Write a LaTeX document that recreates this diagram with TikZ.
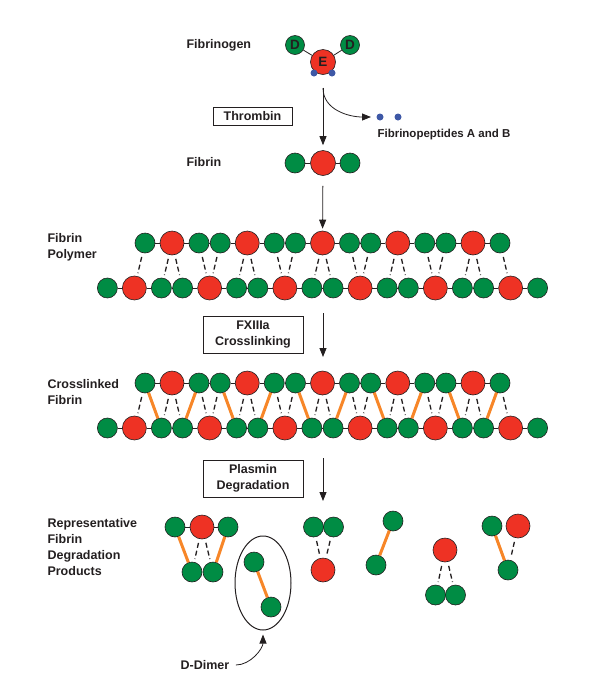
\documentclass[tikz,border=0pt]{standalone}
\usepackage{fontspec}
\setmainfont{Liberation Sans}
\usetikzlibrary{positioning, arrows.meta, shapes.geometric}
\definecolor{fibGreen}{RGB}{0, 140, 68}
\definecolor{fibRed}{RGB}{238, 50, 36}
\definecolor{xlinkOrange}{RGB}{247, 134, 40}
\definecolor{peptideBlue}{RGB}{62, 88, 166}
\definecolor{inkGray}{RGB}{35, 31, 32}

\begin{document}
\begin{tikzpicture}[
    x=1pt, y=-1pt,
    every node/.style={font=\bfseries\fontsize{12.5}{16}\selectfont, text=inkGray},
    dom/.style={circle, draw=inkGray, line width=0.6pt, inner sep=0pt},
    ddom/.style={dom, fill=fibGreen, minimum size=20pt},
    edom/.style={dom, fill=fibRed, minimum size=24pt},
    pep/.style={circle, fill=peptideBlue, inner sep=0pt, minimum size=7pt},
    link/.style={draw=inkGray, line width=0.8pt},
    weak/.style={draw=inkGray, line width=1.3pt, dash pattern=on 5pt off 3pt, shorten <=4pt, shorten >=3pt},
    xlink/.style={draw=xlinkOrange, line width=3pt},
    enzyme/.style={rectangle, draw=inkGray, line width=1pt, align=center, inner sep=2pt},
    stage/.style={anchor=west, align=left},
    arrow/.style={-{Triangle[length=9pt, width=7pt]}, line width=0.8pt, draw=inkGray}
]
\useasboundingbox (0,0) rectangle (590,681);

% --- Fibrinogen ------------------------------------------------------------
\node[stage] (fgnlbl) at (183,45) {Fibrinogen};
\node[edom, minimum size=25pt, font=\bfseries\fontsize{13.5}{16}\selectfont] (fgE) at (323,62) {E};
\node[ddom, minimum size=19pt, font=\bfseries\fontsize{13.5}{16}\selectfont] (fgDl) at (295,45) {D};
\node[ddom, minimum size=19pt, font=\bfseries\fontsize{13.5}{16}\selectfont] (fgDr) at (350,45) {D};
\draw[link] (fgDl) -- (fgE) -- (fgDr);
\node[pep] (fgpa) at (314,73) {};
\node[pep] (fgpb) at (332,73) {};

% --- Thrombin cleavage -------------------------------------------------------
\node[enzyme, minimum width=79pt, minimum height=18pt] (thrombin) at (252.5,116) {Thrombin};
\coordinate (split) at (323,88);
\node[pep] (fpa) at (380,117) {};
\node[pep] (fpb) at (398,117) {};
\node[anchor=north west, font=\bfseries\fontsize{11.5}{14}\selectfont] (fplbl) at (374,126) {Fibrinopeptides A and B};
\draw[arrow] (split) to[out=-90, in=180] ([xshift=-9pt]fpa.center);

% --- Fibrin monomer ----------------------------------------------------------
\node[stage] (fnlbl) at (183,162) {Fibrin};
\node[edom, minimum size=25pt] (fr) at (323,163) {};
\node[ddom] (fgl) at (295,163) {};
\node[ddom] (fgr) at (350,163) {};
\draw[link] (fgl) -- (fr) -- (fgr);
\draw[arrow, shorten >=5pt] (split) -- (fr);

% --- Polymer (p) and crosslinked (c) double strands --------------------------
\foreach \row/\ty/\by in {p/243/288, c/383/428} {
    \foreach \i in {1,...,5} {
        \pgfmathsetmacro\cx{322.5+75.25*(\i-3)}
        \node[ddom] (\row-t\i-l) at (\cx-27,\ty) {};
        \node[edom] (\row-t\i-e) at (\cx,\ty) {};
        \node[ddom] (\row-t\i-r) at (\cx+27,\ty) {};
        \draw[link] (\row-t\i-l) -- (\row-t\i-e) -- (\row-t\i-r);
    }
    \foreach \i in {1,...,6} {
        \pgfmathsetmacro\cx{322.5+75.25*(\i-3.5)}
        \node[ddom] (\row-b\i-l) at (\cx-27,\by) {};
        \node[edom] (\row-b\i-e) at (\cx,\by) {};
        \node[ddom] (\row-b\i-r) at (\cx+27,\by) {};
        \draw[link] (\row-b\i-l) -- (\row-b\i-e) -- (\row-b\i-r);
    }
    \foreach \i in {1,...,5} {
        \pgfmathtruncatemacro\j{\i+1}
        \draw[link] (\row-b\i-r) -- (\row-b\j-l);
        \ifnum\i<5 \draw[link] (\row-t\i-r) -- (\row-t\j-l); \fi
        % E-D contacts between the strands
        \draw[weak] (\row-t\i-e) -- (\row-b\i-r);
        \draw[weak] (\row-t\i-e) -- (\row-b\j-l);
        \draw[weak] (\row-t\i-l) -- (\row-b\i-e);
        \draw[weak] (\row-t\i-r) -- (\row-b\j-e);
    }
}
\node[stage] (polylbl) at (44,247) {Fibrin\\Polymer};
\draw[arrow, shorten <=10pt, shorten >=2pt] (fr) -- (p-t3-e);

% --- FXIIIa crosslinking ----------------------------------------------------
\node[enzyme, minimum width=100pt, minimum height=37pt] (fxiii) at (253,334.5) {FXIIIa\\Crosslinking};
\coordinate (fxtop) at (323,313);
\coordinate (fxbot) at (323,357);
\draw[arrow] (fxtop) -- (fxbot);

\node[stage] (xlinklbl) at (44,392) {Crosslinked\\Fibrin};
\foreach \i in {1,...,5} {
    \pgfmathtruncatemacro\j{\i+1}
    \draw[xlink] (c-t\i-l) -- (c-b\i-r);
    \draw[xlink] (c-t\i-r) -- (c-b\j-l);
}

% --- Plasmin degradation ----------------------------------------------------
\node[enzyme, minimum width=100pt, minimum height=37pt] (plasmin) at (253,478.5) {Plasmin\\Degradation};
\coordinate (pltop) at (323,458);
\coordinate (plbot) at (323,501);
\draw[arrow] (pltop) -- (plbot);

\node[stage] (fdplbl) at (44,547) {Representative\\Fibrin\\Degradation\\Products};

% fragment 1
\node[ddom] (f1a) at (175,527) {};
\node[edom] (f1e) at (202,527) {};
\node[ddom] (f1b) at (228,527) {};
\node[ddom] (f1c) at (192,572) {};
\node[ddom] (f1d) at (213,572) {};
\draw[link] (f1a) -- (f1e) -- (f1b);
\draw[xlink] (f1a) -- (f1c);
\draw[xlink] (f1b) -- (f1d);
\draw[weak] (f1e) -- (f1c);
\draw[weak] (f1e) -- (f1d);

% fragment 2: D-dimer
\node[ddom] (f2a) at (254,562) {};
\node[ddom] (f2b) at (271,607) {};
\draw[xlink] (f2a) -- (f2b);
\node[ellipse, draw=inkGray, line width=1pt, minimum width=56pt, minimum height=94pt] (ddimer) at (263,583) {};
\node (ddlbl) at (205,665) {D-Dimer};
\draw[arrow, shorten <=3pt, shorten >=4pt] (ddlbl.east) to[out=0, in=-90] (ddimer.south);

% fragment 3
\node[ddom] (f3a) at (313.5,527) {};
\node[ddom] (f3b) at (333.5,527) {};
\node[edom] (f3e) at (323,570) {};
\draw[weak] (f3a) -- (f3e);
\draw[weak] (f3b) -- (f3e);

% fragment 4
\node[ddom] (f4a) at (393,521) {};
\node[ddom] (f4b) at (376,565) {};
\draw[xlink] (f4a) -- (f4b);

% fragment 5
\node[edom] (f5e) at (445,550) {};
\node[ddom] (f5a) at (435.5,595) {};
\node[ddom] (f5b) at (455.5,595) {};
\draw[weak] (f5e) -- (f5a);
\draw[weak] (f5e) -- (f5b);

% fragment 6
\node[ddom] (f6a) at (492,526) {};
\node[edom] (f6e) at (518,526) {};
\node[ddom] (f6b) at (508,570) {};
\draw[xlink] (f6a) -- (f6b);
\draw[weak] (f6e) -- (f6b);

\end{tikzpicture}
\end{document}
